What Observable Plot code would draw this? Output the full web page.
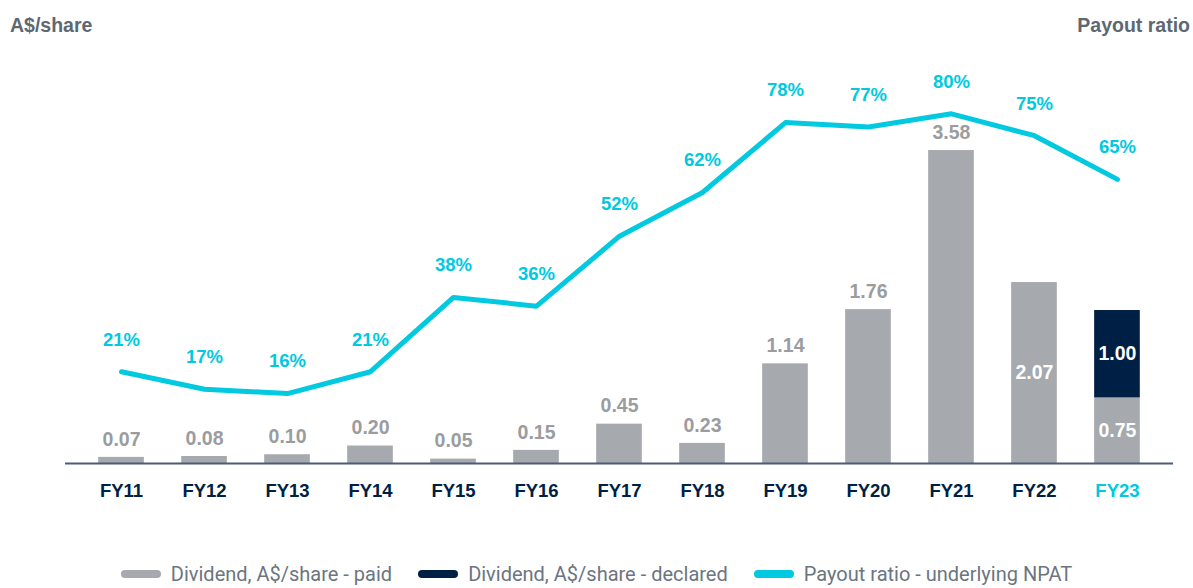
<!DOCTYPE html>
<html>
<head>
<meta charset="utf-8">
<script src="https://cdn.jsdelivr.net/npm/d3@7"></script>
<script src="https://cdn.jsdelivr.net/npm/@observablehq/plot@0.6"></script>
<style>
  html, body { margin: 0; padding: 0; background: #fff; }
  body { width: 1193px; height: 588px; overflow: hidden; font-family: "Liberation Sans", Arial, sans-serif; }
  .head { position: relative; height: 50px; }
  .head span { position: absolute; top: 14px; font-size: 19.5px; font-weight: bold; color: #5d6872; }
  .legend { display: flex; justify-content: center; align-items: center; height: 28px; padding-top: 10px; font-family: Roboto, "Liberation Sans", sans-serif; font-size: 20px; line-height: 24px; color: #6b7580; }
  .legend .item { display: flex; align-items: center; margin: 0 13px; }
  .legend .sw { width: 40px; height: 8px; border-radius: 4px; margin-right: 10px; }
</style>
</head>
<body>
<div class="head"><span style="left:10px">A$/share</span><span style="right:3px">Payout ratio</span></div>
<div id="chart"></div>
<div class="legend" id="legend"></div>
<script>
const years = ["FY11","FY12","FY13","FY14","FY15","FY16","FY17","FY18","FY19","FY20","FY21","FY22","FY23"];
const paid = [0.07, 0.08, 0.10, 0.20, 0.05, 0.15, 0.45, 0.23, 1.14, 1.76, 3.58, 2.07, 0.75];
const declared = [0, 0, 0, 0, 0, 0, 0, 0, 0, 0, 0, 0, 1.00];
const payout = [21, 17, 16, 21, 38, 36, 52, 62, 78, 77, 80, 75, 65];
const insideLabelYears = ["FY22", "FY23"];
const seriesNames = ["Dividend, A$/share - paid", "Dividend, A$/share - declared", "Payout ratio - underlying NPAT"];

const GRAY = "#a6a9ad", NAVY = "#001f45", CYAN = "#00c9e0", LABELGRAY = "#9b9c9f", AXIS = "#4b5c78";
const RATIO_TO_Y = 1 / 20; // payout % mapped onto dividend axis (dual axis)

const bars = [];
years.forEach((y, i) => {
  bars.push({year: y, type: "paid", value: paid[i]});
  if (declared[i] > 0) bars.push({year: y, type: "declared", value: declared[i]});
});
const outsideLabels = years.map((y, i) => ({year: y, value: paid[i]})).filter(d => !insideLabelYears.includes(d.year));
const insideLabels = [];
years.forEach((y, i) => {
  if (insideLabelYears.includes(y)) {
    insideLabels.push({year: y, mid: paid[i] / 2, value: paid[i]});
    if (declared[i] > 0) insideLabels.push({year: y, mid: paid[i] + declared[i] / 2, value: declared[i]});
  }
});
const line = years.map((y, i) => ({year: y, r: payout[i], yv: payout[i] * RATIO_TO_Y}));

const plot = Plot.plot({
  width: 1193,
  height: 500,
  marginLeft: 65,
  marginRight: 20,
  marginTop: 10,
  marginBottom: 87,
  style: {fontFamily: "'Liberation Sans', Arial, sans-serif", background: "transparent"},
  x: {domain: years, paddingInner: 0.45, paddingOuter: 0.4, round: false, axis: null},
  y: {domain: [0, 4.61], axis: null},
  marks: [
    Plot.barY(bars, {x: "year", y: "value", fill: d => d.type === "paid" ? GRAY : NAVY, order: ["paid", "declared"], z: "type"}),
    Plot.ruleY([0], {stroke: AXIS, strokeWidth: 2}),
    Plot.text(outsideLabels, {x: "year", y: "value", text: d => d.value.toFixed(2), dy: -18, fill: LABELGRAY, fontSize: 19.5, fontWeight: "bold"}),
    Plot.text(insideLabels, {x: "year", y: "mid", text: d => d.value.toFixed(2), fill: "white", fontSize: 19.5, fontWeight: "bold"}),
    Plot.line(line, {x: "year", y: "yv", stroke: CYAN, strokeWidth: 5, strokeLinecap: "round", strokeLinejoin: "round"}),
    Plot.text(line, {x: "year", y: "yv", text: d => d.r + "%", dy: -32, fill: CYAN, fontSize: 18.5, fontWeight: "bold"}),
    Plot.text(years, {x: d => d, y: () => 0, dy: 28, fill: d => d === "FY23" ? CYAN : NAVY, fontSize: 18.5, fontWeight: "bold"})
  ]
});
document.getElementById("chart").appendChild(plot);

const legendColors = [GRAY, NAVY, CYAN];
const lg = document.getElementById("legend");
seriesNames.forEach((n, i) => {
  const it = document.createElement("div");
  it.className = "item";
  it.innerHTML = `<div class="sw" style="background:${legendColors[i]}"></div><span>${n}</span>`;
  lg.appendChild(it);
});
</script>
</body>
</html>
